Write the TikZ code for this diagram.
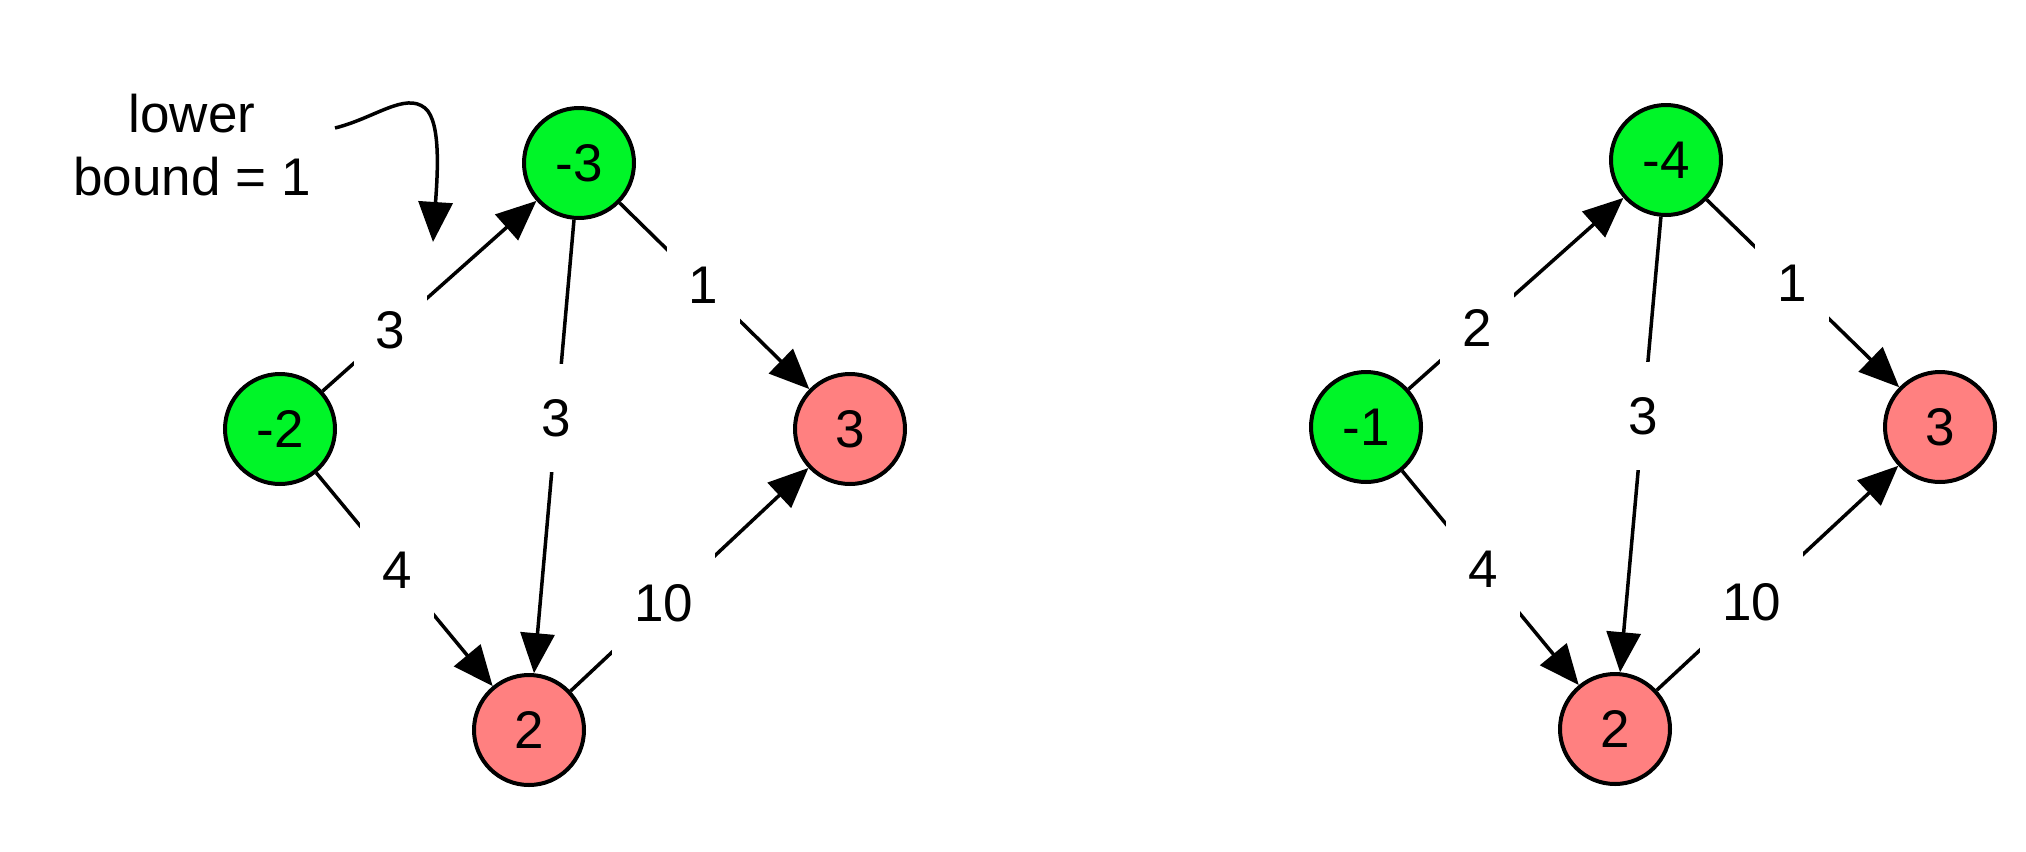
\documentclass[tikz,border=0pt]{standalone}
\usepackage{fontspec}
\setmainfont{Liberation Sans}
\usetikzlibrary{arrows.meta,calc}
\definecolor{ngreen}{RGB}{0,245,40}
\definecolor{nred}{RGB}{255,128,128}
\begin{document}
\begin{tikzpicture}[x=0.5pt,y=-0.5pt,
  txt/.style={font=\fontsize{26.5}{31.5}\selectfont},
  vnode/.style={txt, circle, draw, line width=2pt, minimum size=55pt, inner sep=0pt},
  gnode/.style={vnode, fill=ngreen},
  rnode/.style={vnode, fill=nred},
  edgearrow/.style={line width=1.75pt, -{Triangle[length=20pt,width=17pt]}},
  lab/.style={txt, fill=white, inner xsep=11pt, inner ysep=0pt, minimum height=54pt}]
\useasboundingbox (0,0) rectangle (2026,852);
% left graph
\node[gnode] (m2) at (280,429) {-2};
\node[gnode] (m3) at (579,163) {-3};
\node[rnode] (p3) at (850,429) {3};
\node[rnode] (p2) at (529,730) {2};
\draw[edgearrow] (m2) -- (m3);
\draw[edgearrow] (m3) -- (p3);
\draw[edgearrow] (m3) -- (p2);
\draw[edgearrow] (m2) -- (p2);
\draw[edgearrow] (p2) -- (p3);
\node[lab] (l1) at ($(m2)!0.37!(m3)$) {3};
\node[lab] (l2) at ($(m3)!0.46!(p3)$) {1};
\node[lab] (l3) at ($(m3)!0.45!(p2)$) {3};
\node[lab] (l4) at ($(m2)!0.47!(p2)$) {4};
\node[lab] (l5) at ($(p2)!0.42!(p3)$) {10};
% annotation
\node[txt, align=center] (ann) at (192,145) {lower\\bound = 1};
\coordinate (as) at (335,128);
\coordinate (ae) at (433,242);
\draw[edgearrow] (as) .. controls (375,118) and (405,92) .. (425,108) .. controls (442,122) and (437,180) .. (ae);
% right graph
\node[gnode] (n1) at (1366,427) {-1};
\node[gnode] (n4) at (1666,160) {-4};
\node[rnode] (q3) at (1940,427) {3};
\node[rnode] (q2) at (1615,729) {2};
\draw[edgearrow] (n1) -- (n4);
\draw[edgearrow] (n4) -- (q3);
\draw[edgearrow] (n4) -- (q2);
\draw[edgearrow] (n1) -- (q2);
\draw[edgearrow] (q2) -- (q3);
\node[lab] (r1) at ($(n1)!0.37!(n4)$) {2};
\node[lab] (r2) at ($(n4)!0.46!(q3)$) {1};
\node[lab] (r3) at ($(n4)!0.45!(q2)$) {3};
\node[lab] (r4) at ($(n1)!0.47!(q2)$) {4};
\node[lab] (r5) at ($(q2)!0.42!(q3)$) {10};
\end{tikzpicture}
\end{document}
